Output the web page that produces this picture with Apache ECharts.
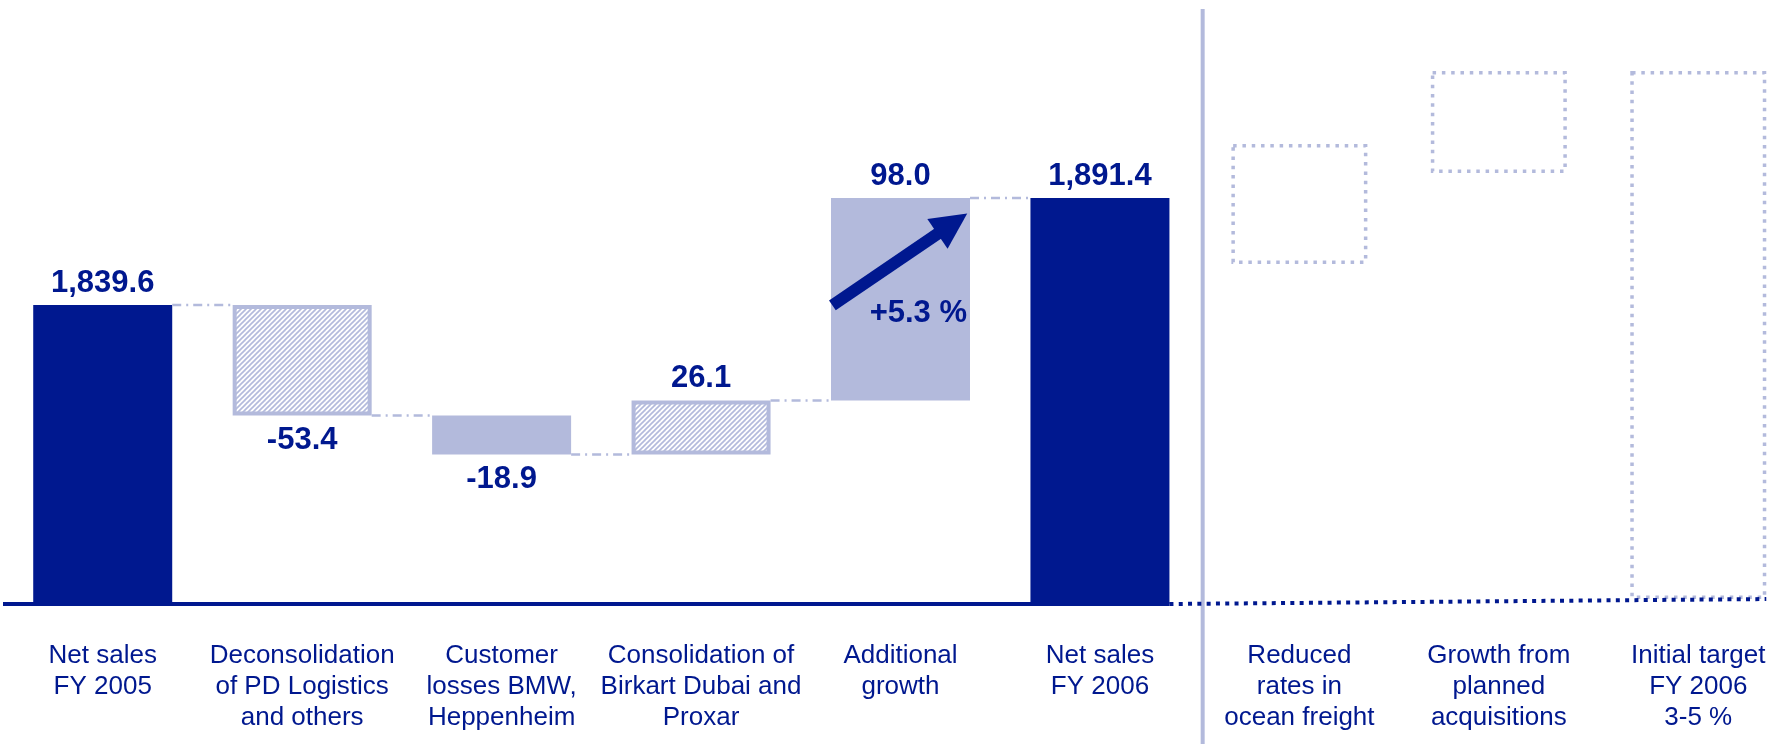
<!DOCTYPE html>
<html><head><meta charset="utf-8">
<script src="https://cdn.jsdelivr.net/npm/echarts@6/dist/echarts.min.js"></script>
<style>html,body{margin:0;padding:0;background:#fff}#c{width:1778px;height:744px}</style>
</head><body><div id="c"></div>
<script>
// ---------------- data ----------------
const categories = [
  'Net sales\nFY 2005',
  'Deconsolidation\nof PD Logistics\nand others',
  'Customer\nlosses BMW,\nHeppenheim',
  'Consolidation of\nBirkart Dubai and\nProxar',
  'Additional\ngrowth',
  'Net sales\nFY 2006',
  'Reduced\nrates in\nocean freight',
  'Growth from\nplanned\nacquisitions',
  'Initial target\nFY 2006\n3-5 %'
];
const bridgeValues = [1839.6, -53.4, -18.9, 26.1, 98.0, 1891.4];
const bridgeKinds  = ['total', 'hatch', 'solid', 'hatch', 'solid', 'total'];
const growthIndex = 4;
const growthLabel = '+5.3 %';
// schematic outlook boxes (estimated levels, no printed values)
const outlookLow  = [1859.5, 1903.5, 1697.4];
const outlookHigh = [1917.5, 1952.8, 1952.8];
const axisMin = 1695, axisMax = 1963;

// ---------------- style ----------------
const NAVY = '#00188F', LAV = '#B3BADC';
const FONT = '"Liberation Sans", Arial, Helvetica, sans-serif';
const W = 1778, H = 744;
const GRID = {left: 3, width: 1795, top: 50, bottom: 140, outerBoundsMode: 'none', containLabel: false};
const BAR_W = 139, BOX_W = 136;

function fmt(v) { return v.toLocaleString('en-US', {minimumFractionDigits: 1, maximumFractionDigits: 1}); }

// hatch pattern
const hatch = document.createElement('canvas');
hatch.width = 5; hatch.height = 5;
(function () {
  const c = hatch.getContext('2d');
  c.fillStyle = '#fff'; c.fillRect(0, 0, 5, 5);
  c.strokeStyle = LAV; c.lineWidth = 1.7;
  [[-5, 5, 5, -5], [0, 5, 5, 0], [0, 10, 10, 0]].forEach(function (p) {
    c.beginPath(); c.moveTo(p[0], p[1]); c.lineTo(p[2], p[3]); c.stroke();
  });
})();

// build items
const items = [];
let running = 0;
bridgeValues.forEach(function (v, i) {
  const kind = bridgeKinds[i];
  let low, high, end;
  if (kind === 'total') { low = axisMin; high = v; end = v; running = v; }
  else {
    const s = running; running = +(running + v).toFixed(1);
    low = Math.min(s, running); high = Math.max(s, running); end = running;
  }
  items.push({value: [i, low, high, end], kind: kind, delta: v, label: fmt(v),
              connector: i < bridgeValues.length - 1, growth: i === growthIndex ? growthLabel : null});
});
outlookLow.forEach(function (lo, k) {
  items.push({value: [bridgeValues.length + k, lo, outlookHigh[k], lo], kind: 'box'});
});

function renderItem(params, api) {
  const d = items[params.dataIndex];
  const i = api.value(0);
  const top = api.coord([i, api.value(2)]);
  const bot = api.coord([i, api.value(1)]);
  const band = api.size([1, 0])[0];
  const w = d.kind === 'box' ? BOX_W : BAR_W;
  const cx = top[0], x = cx - w / 2, y = top[1], h = bot[1] - top[1];
  const ch = [];
  if (d.kind === 'total') ch.push({type: 'rect', shape: {x: x, y: y, width: w, height: h}, style: {fill: NAVY}});
  else if (d.kind === 'solid') ch.push({type: 'rect', shape: {x: x, y: y, width: w, height: h}, style: {fill: LAV}});
  else if (d.kind === 'hatch') ch.push({type: 'rect', shape: {x: x + 2, y: y + 2, width: w - 4, height: h - 4},
      style: {fill: {image: hatch, repeat: 'repeat'}, stroke: LAV, lineWidth: 4}});
  else ch.push({type: 'rect', shape: {x: x + 1.75, y: y + 1.75, width: w - 3.5, height: h - 3.5},
      style: {fill: null, stroke: LAV, lineWidth: 3.5, lineDash: [3.5, 5.8]}});

  if (d.connector) {
    const ye = api.coord([i, api.value(3)])[1];
    ch.push({type: 'line', shape: {x1: x + w, y1: ye, x2: cx + band - w / 2, y2: ye},
      style: {stroke: LAV, lineWidth: 2.5, lineDash: [9, 5, 2, 5]}});
  }
  if (d.label) {
    const above = d.delta >= 0;
    ch.push({type: 'text', style: {x: cx, y: above ? y - 22 : y + h + 25, text: d.label, fill: NAVY,
      font: 'bold 31px ' + FONT, align: 'center', verticalAlign: 'middle'}});
  }
  if (d.growth) {
    const sx = x + 0.01 * w, sy = y + 0.53 * h, tx = x + 0.98 * w, ty = y + 0.077 * h;
    const dx = tx - sx, dy = ty - sy, L = Math.hypot(dx, dy), ux = dx / L, uy = dy / L;
    const bx = tx - 36 * ux, by = ty - 36 * uy, px = -uy, py = ux;
    ch.push({type: 'line', shape: {x1: sx, y1: sy, x2: bx + 2 * ux, y2: by + 2 * uy}, style: {stroke: NAVY, lineWidth: 12}});
    ch.push({type: 'polygon', shape: {points: [[tx, ty], [bx + 18 * px, by + 18 * py], [bx - 18 * px, by - 18 * py]]}, style: {fill: NAVY}});
    ch.push({type: 'text', style: {x: x + w - 3, y: y + 0.57 * h, text: d.growth, fill: NAVY,
      font: 'bold 31px ' + FONT, align: 'right', verticalAlign: 'middle'}});
  }
  return {type: 'group', children: ch};
}

const bandPx = GRID.width / categories.length;
const hb = BAR_W / 2 / bandPx, hbox = BOX_W / 2 / bandPx;
const lastBar = bridgeValues.length - 1;

const chart = echarts.init(document.getElementById('c'), null, {renderer: 'canvas'});
chart.setOption({
  animation: false,
  backgroundColor: '#fff',
  grid: GRID,
  xAxis: [
    {type: 'category', data: categories, axisLine: {show: false}, axisTick: {show: false},
     axisLabel: {interval: 0, color: NAVY, fontSize: 26, lineHeight: 31, margin: 36, fontFamily: FONT, hideOverlap: false}},
    {type: 'value', min: 0, max: categories.length, show: false}
  ],
  yAxis: {type: 'value', min: axisMin, max: axisMax, show: false, splitLine: {show: false}},
  series: [
    {type: 'custom', xAxisIndex: 0, renderItem: renderItem, data: items.map(function (d) { return d.value; }),
     encode: {x: 0, y: [1, 2]}, z: 2},
    {type: 'line', xAxisIndex: 1, symbol: 'none', clip: false, z: 3,
     data: [[0, axisMin], [lastBar + 0.5 + hb, axisMin]],
     lineStyle: {color: NAVY, width: 4, cap: 'butt'}},
    {type: 'line', xAxisIndex: 1, symbol: 'none', clip: false, z: 3,
     data: [[lastBar + 0.5 + hb, axisMin], [categories.length - 0.5 + hbox, outlookLow[outlookLow.length - 1]]],
     lineStyle: {color: NAVY, width: 4, type: [4, 5.3], cap: 'butt'}}
  ]
});
const sepX = chart.convertToPixel({xAxisIndex: 1}, bridgeValues.length);
chart.setOption({graphic: [{type: 'line', shape: {x1: sepX + 3, y1: 9, x2: sepX + 3, y2: H}, style: {stroke: LAV, lineWidth: 4}, z: 1}]});
</script>
</body></html>
